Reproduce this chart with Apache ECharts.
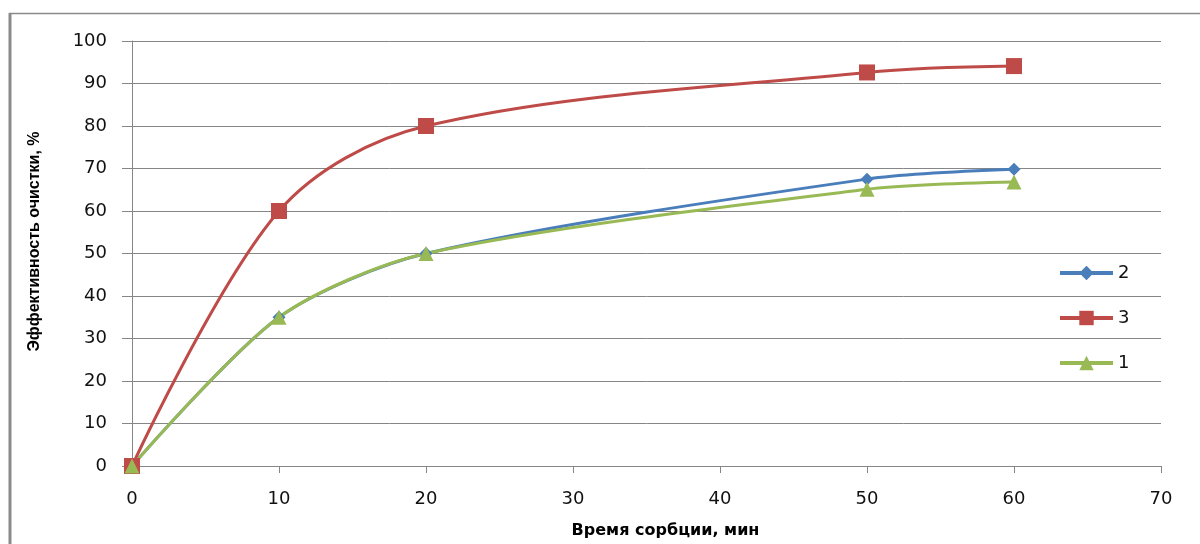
<!DOCTYPE html>
<html>
<head>
<meta charset="utf-8">
<script src="https://cdn.jsdelivr.net/npm/echarts@6/dist/echarts.min.js"></script>
<style>html,body{margin:0;padding:0;background:#fff;}#c{width:1200px;height:544px;}</style>
</head>
<body>
<div id="c"></div>
<script>
const xValues = [0, 10, 20, 50, 60];
const series2 = [0, 35, 50, 67.5, 69.8];
const series3 = [0, 60, 80, 92.6, 94.1];
const series1 = [0, 35, 50, 65.1, 66.8];
const seriesNames = ['2', '3', '1'];
const xTitle = 'Время сорбции, мин';
const yTitle = 'Эффективность очистки, %';

const pairs = (ys) => xValues.map((x, i) => [x, ys[i]]);
const FONT = 'DejaVu Sans';
const chart = echarts.init(document.getElementById('c'), null, {renderer: 'canvas'});
chart.setOption({
  backgroundColor: '#fff',
  animation: false,
  textStyle: {fontFamily: FONT},
  grid: {left: 132, right: 39, top: 41, bottom: 76, containLabel: false},
  graphic: [
    {type: 'line', shape: {x1: 10, y1: 13, x2: 10, y2: 544}, style: {stroke: '#8a8a8a', lineWidth: 3}},
    {type: 'line', shape: {x1: 9, y1: 13.5, x2: 1200, y2: 13.5}, style: {stroke: '#8a8a8a', lineWidth: 1.5}}
  ],
  xAxis: {
    type: 'value', min: 0, max: 70, interval: 10,
    name: xTitle, nameLocation: 'middle', nameGap: 57,
    nameTextStyle: {fontFamily: FONT, fontWeight: 'bold', fontSize: 16, color: '#000', padding: [0, 0, 0, 38]},
    axisLine: {show: true, lineStyle: {color: '#868686', width: 1}},
    axisTick: {show: true, length: 7, lineStyle: {color: '#868686'}},
    axisLabel: {fontSize: 18, color: '#111', margin: 24, fontFamily: FONT},
    splitLine: {show: false}
  },
  yAxis: {
    type: 'value', min: 0, max: 100, interval: 10,
    name: yTitle, nameLocation: 'middle', nameGap: 89, nameRotate: 90,
    nameTextStyle: {fontFamily: 'Liberation Sans', fontWeight: 'bold', fontSize: 16, color: '#000', padding: [0, 0, 0, 24]},
    axisLine: {show: true, lineStyle: {color: '#868686', width: 1}},
    axisTick: {show: true, length: 10, lineStyle: {color: '#868686'}},
    axisLabel: {fontSize: 18, color: '#111', margin: 25, fontFamily: FONT},
    splitLine: {show: true, lineStyle: {color: '#868686', width: 1}}
  },
  legend: {
    orient: 'vertical', left: 1053, top: 259, itemWidth: 53, itemHeight: 18, itemGap: 27,
    data: seriesNames,
    lineStyle: {width: 4},
    textStyle: {fontSize: 18, lineHeight: 18, color: '#111', fontFamily: FONT}
  },
  series: [
    {name: seriesNames[0], type: 'line', data: pairs(series2), smooth: 0.28,
     symbol: 'diamond', symbolSize: 13, itemStyle: {color: '#4a7ebb'}, lineStyle: {color: '#4a7ebb', width: 3}},
    {name: seriesNames[1], type: 'line', data: pairs(series3), smooth: 0.33,
     symbol: 'rect', symbolSize: 16, itemStyle: {color: '#be4b48'}, lineStyle: {color: '#be4b48', width: 3}},
    {name: seriesNames[2], type: 'line', data: pairs(series1), smooth: 0.28,
     symbol: 'triangle', symbolSize: 15, itemStyle: {color: '#98b954'}, lineStyle: {color: '#98b954', width: 3}}
  ]
});
</script>
</body>
</html>
